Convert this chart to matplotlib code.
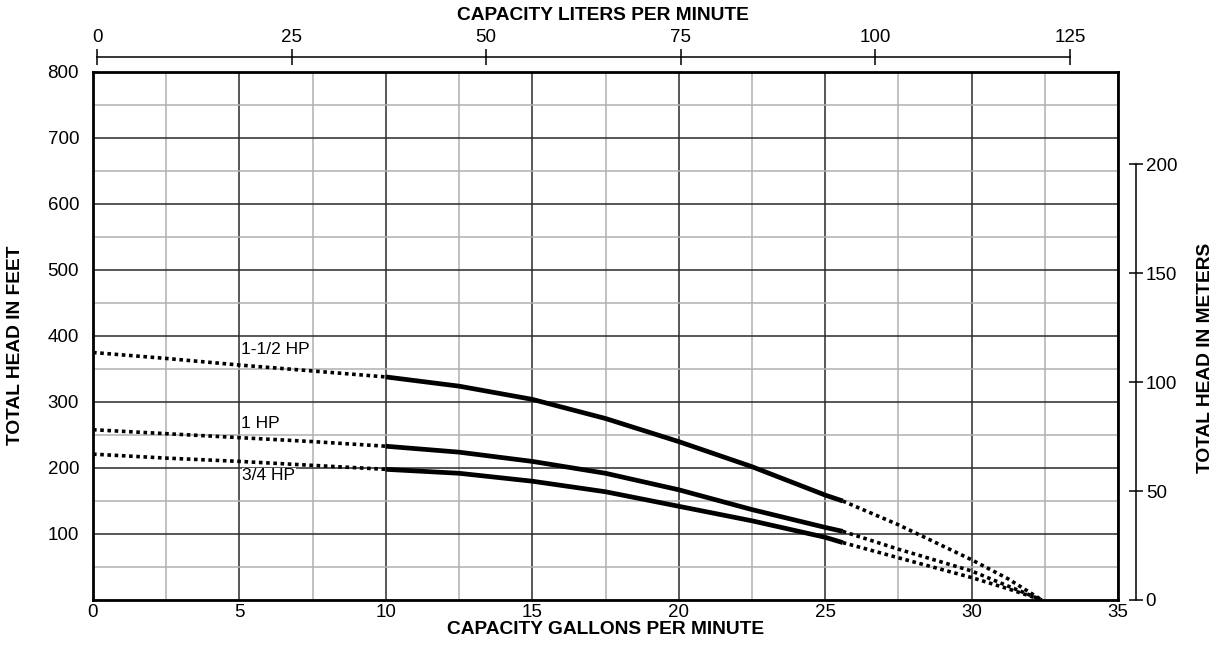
"""
Pump performance curves: total head vs capacity
"""

import matplotlib
matplotlib.use('Agg')
import matplotlib.pyplot as plt
from matplotlib.ticker import MultipleLocator

plt.rcParams['font.family'] = ['Liberation Sans', 'DejaVu Sans']

# 读图得到的数据 (GPM, feet)
hp15_low_gpm = [0, 2.5, 5, 7.5, 10]
hp15_low_ft = [375, 366, 356, 347, 338]
hp15_gpm = [10, 12.5, 15, 17.5, 20, 22.5, 25, 25.6]
hp15_ft = [338, 324, 304, 275, 240, 202, 159, 150]
hp15_high_gpm = [25.6, 27.5, 30, 31.25, 32.4]
hp15_high_ft = [150, 114, 61, 32, 0]

hp1_low_gpm = [0, 2.5, 5, 7.5, 10]
hp1_low_ft = [258, 252, 246, 240, 233]
hp1_gpm = [10, 12.5, 15, 17.5, 20, 22.5, 25, 25.6]
hp1_ft = [233, 224, 210, 192, 167, 137, 110, 104]
hp1_high_gpm = [25.6, 27.5, 30, 31.25, 32.4]
hp1_high_ft = [104, 77, 44, 21, 0]

hp34_low_gpm = [0, 2.5, 5, 7.5, 10]
hp34_low_ft = [221, 215, 210, 204, 198]
hp34_gpm = [10, 12.5, 15, 17.5, 20, 22.5, 25, 25.6]
hp34_ft = [198, 192, 180, 164, 142, 120, 95, 87]
hp34_high_gpm = [25.6, 27.5, 30, 31.25, 32.4]
hp34_high_ft = [87, 64, 34, 17, 0]

curve_labels = ['1-1/2 HP', '1 HP', '3/4 HP']
label_gpm = [5.05, 5.05, 5.1]
label_ft = [379, 268, 188]

lpm_ticks = [0, 25, 50, 75, 100, 125]
meter_ticks = [0, 50, 100, 150, 200]

W, H = 1225, 646
fig = plt.figure(figsize=(W / 100, H / 100), dpi=100)
ax = fig.add_axes([93 / W, 46 / H, 1025 / W, 528 / H])

ax.set_xlim(0, 35)
ax.set_ylim(0, 800)
ax.xaxis.set_major_locator(MultipleLocator(5))
ax.xaxis.set_minor_locator(MultipleLocator(2.5))
ax.set_yticks(range(100, 801, 100))
ax.yaxis.set_minor_locator(MultipleLocator(50))
ax.grid(which='major', color='#2a2a2a', lw=1.1)
ax.grid(which='minor', color='#b0b0b0', lw=1.1)
ax.set_axisbelow(True)
ax.tick_params(which='both', length=0, labelsize=13.5)
ax.tick_params(axis='x', pad=3)
ax.tick_params(axis='y', pad=10)
for sp in ax.spines.values():
    sp.set_linewidth(2)
    sp.set_color('black')

dot = dict(color='black', lw=2.6, linestyle=(0, (1, 1)), dash_capstyle='butt')
solid = dict(color='black', lw=3.4, solid_capstyle='butt')
curves = [
    (hp15_low_gpm, hp15_low_ft, hp15_gpm, hp15_ft, hp15_high_gpm, hp15_high_ft),
    (hp1_low_gpm, hp1_low_ft, hp1_gpm, hp1_ft, hp1_high_gpm, hp1_high_ft),
    (hp34_low_gpm, hp34_low_ft, hp34_gpm, hp34_ft, hp34_high_gpm, hp34_high_ft),
]
for lx, ly, sx, sy, hx, hy in curves:
    ax.plot(lx, ly, **dot)
    ax.plot(sx, sy, **solid)
    ax.plot(hx, hy, **dot)

for txt, gx, fy in zip(curve_labels, label_gpm, label_ft):
    ax.text(gx, fy, txt, fontsize=12.5, ha='left', va='center',
            bbox=dict(facecolor='white', edgecolor='none', pad=0.5))

# 顶部 升/分 刻度
gpm_off, lpm_per_gpm = 0.137, 3.763
top = ax.secondary_xaxis((600 - 57) / 528,
                         functions=(lambda g: (g - gpm_off) * lpm_per_gpm,
                                    lambda l: l / lpm_per_gpm + gpm_off))
top.set_xticks(lpm_ticks)
top.spines['top'].set_bounds(0, 125)
top.spines['top'].set_linewidth(1.1)
top.tick_params(direction='inout', length=12, width=1.1, labelsize=13.5, pad=2)

# 右侧 米 刻度
ft_per_m = 3.3
right = ax.secondary_yaxis((1136 - 93) / 1025,
                           functions=(lambda f: f / ft_per_m, lambda m: m * ft_per_m))
right.set_yticks(meter_ticks)
right.spines['right'].set_bounds(0, 200)
right.spines['right'].set_linewidth(1.1)
right.tick_params(direction='inout', length=10, width=1.1, labelsize=13.5, pad=2)

bold = dict(fontsize=13.8, fontweight='bold')
fig.text(603 / W, 1 - 15 / H, 'CAPACITY LITERS PER MINUTE', ha='center', va='center', **bold)
fig.text(606 / W, 1 - 630 / H, 'CAPACITY GALLONS PER MINUTE', ha='center', va='center', **bold)
fig.text(16 / W, 1 - 345 / H, 'TOTAL HEAD IN FEET', ha='center', va='center', rotation=90, **bold)
fig.text(1205 / W, 1 - 358 / H, 'TOTAL HEAD IN METERS', ha='center', va='center', rotation=90, **bold)

fig.savefig('out.png', dpi=100)
